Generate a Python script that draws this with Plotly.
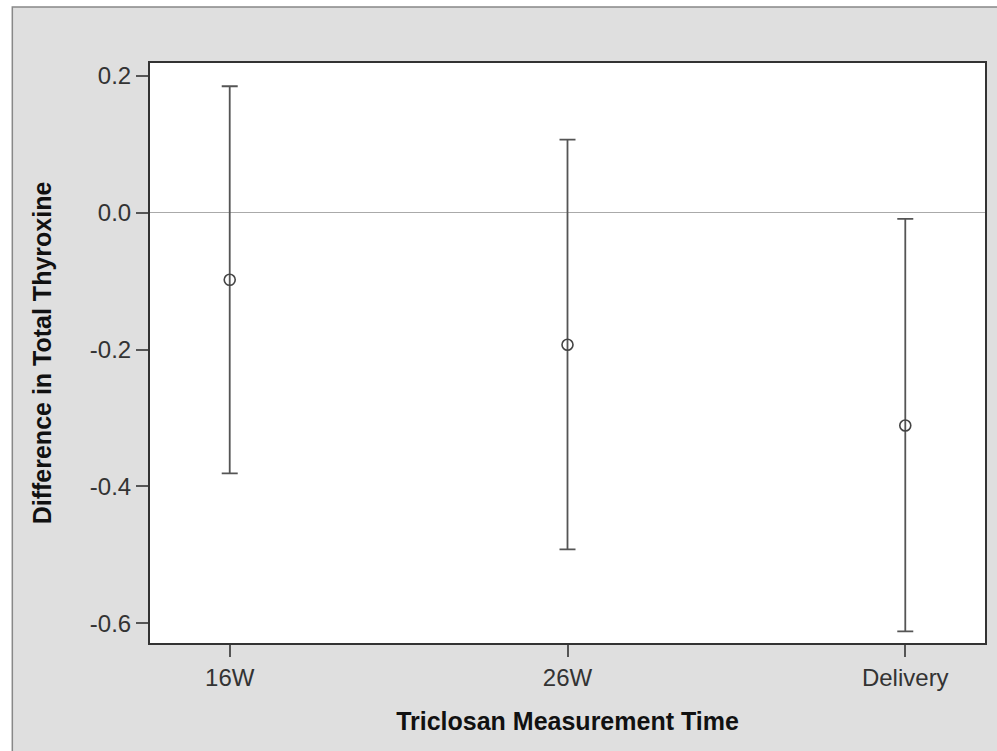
import plotly.graph_objects as go

categories = ["16W", "26W", "Delivery"]
estimates = [-0.098, -0.193, -0.311]
upper_ci = [0.185, 0.107, -0.009]
lower_ci = [-0.381, -0.492, -0.612]
y_tick_vals = [0.2, 0.0, -0.2, -0.4, -0.6]
y_tick_text = ["0.2", "0.0", "-0.2", "-0.4", "-0.6"]

err_plus = [u - e for u, e in zip(upper_ci, estimates)]
err_minus = [e - l for e, l in zip(estimates, lower_ci)]
x_idx = list(range(len(categories)))

fig = go.Figure()
fig.add_trace(go.Scatter(
    x=x_idx, y=estimates, mode="markers",
    marker=dict(symbol="circle-open", size=11, color="#444444", line=dict(width=1.6, color="#444444")),
    error_y=dict(type="data", symmetric=False, array=err_plus, arrayminus=err_minus,
                 color="#555555", thickness=1.8, width=8),
    showlegend=False, hoverinfo="skip",
))

font_family = "Liberation Sans, Arial, sans-serif"

fig.update_layout(
    width=997, height=751,
    margin=dict(l=150, r=10, t=63, b=108),
    paper_bgcolor="white",
    plot_bgcolor="white",
    font=dict(family=font_family, color="#333333", size=24),
    shapes=[
        dict(type="rect", xref="paper", yref="paper", x0=-0.1649, x1=1.03, y0=-0.21, y1=1.0966,
             fillcolor="#dfdfdf", line=dict(color="#888888", width=1.5), layer="below"),
        dict(type="rect", xref="paper", yref="paper", x0=0, x1=1, y0=0, y1=1,
             fillcolor="white", line=dict(width=0), layer="below"),
    ],
    xaxis=dict(
        range=[-0.236, 2.236],
        tickvals=x_idx, ticktext=categories,
        ticks="outside", ticklen=12, tickwidth=1.5, tickcolor="#555555",
        showline=True, linecolor="#333333", linewidth=2, mirror=True,
        showgrid=False, zeroline=False,
        tickfont=dict(size=24, color="#333333"),
        title=dict(text="Triclosan Measurement Time",
                   font=dict(size=25, color="#111111", family=font_family, weight="bold"),
                   standoff=23),
    ),
    yaxis=dict(
        range=[-0.629, 0.219],
        tickvals=y_tick_vals, ticktext=y_tick_text,
        ticks="outside", ticklen=12, tickwidth=1.5, tickcolor="#555555",
        showline=True, linecolor="#333333", linewidth=2, mirror=True,
        showgrid=False,
        zeroline=True, zerolinecolor="#aaaaaa", zerolinewidth=1.2,
        tickfont=dict(size=24, color="#333333"),
        title=dict(text="Difference in Total Thyroxine",
                   font=dict(size=25, color="#111111", family=font_family, weight="bold"),
                   standoff=31),
    ),
)

fig.write_html("out.html")
